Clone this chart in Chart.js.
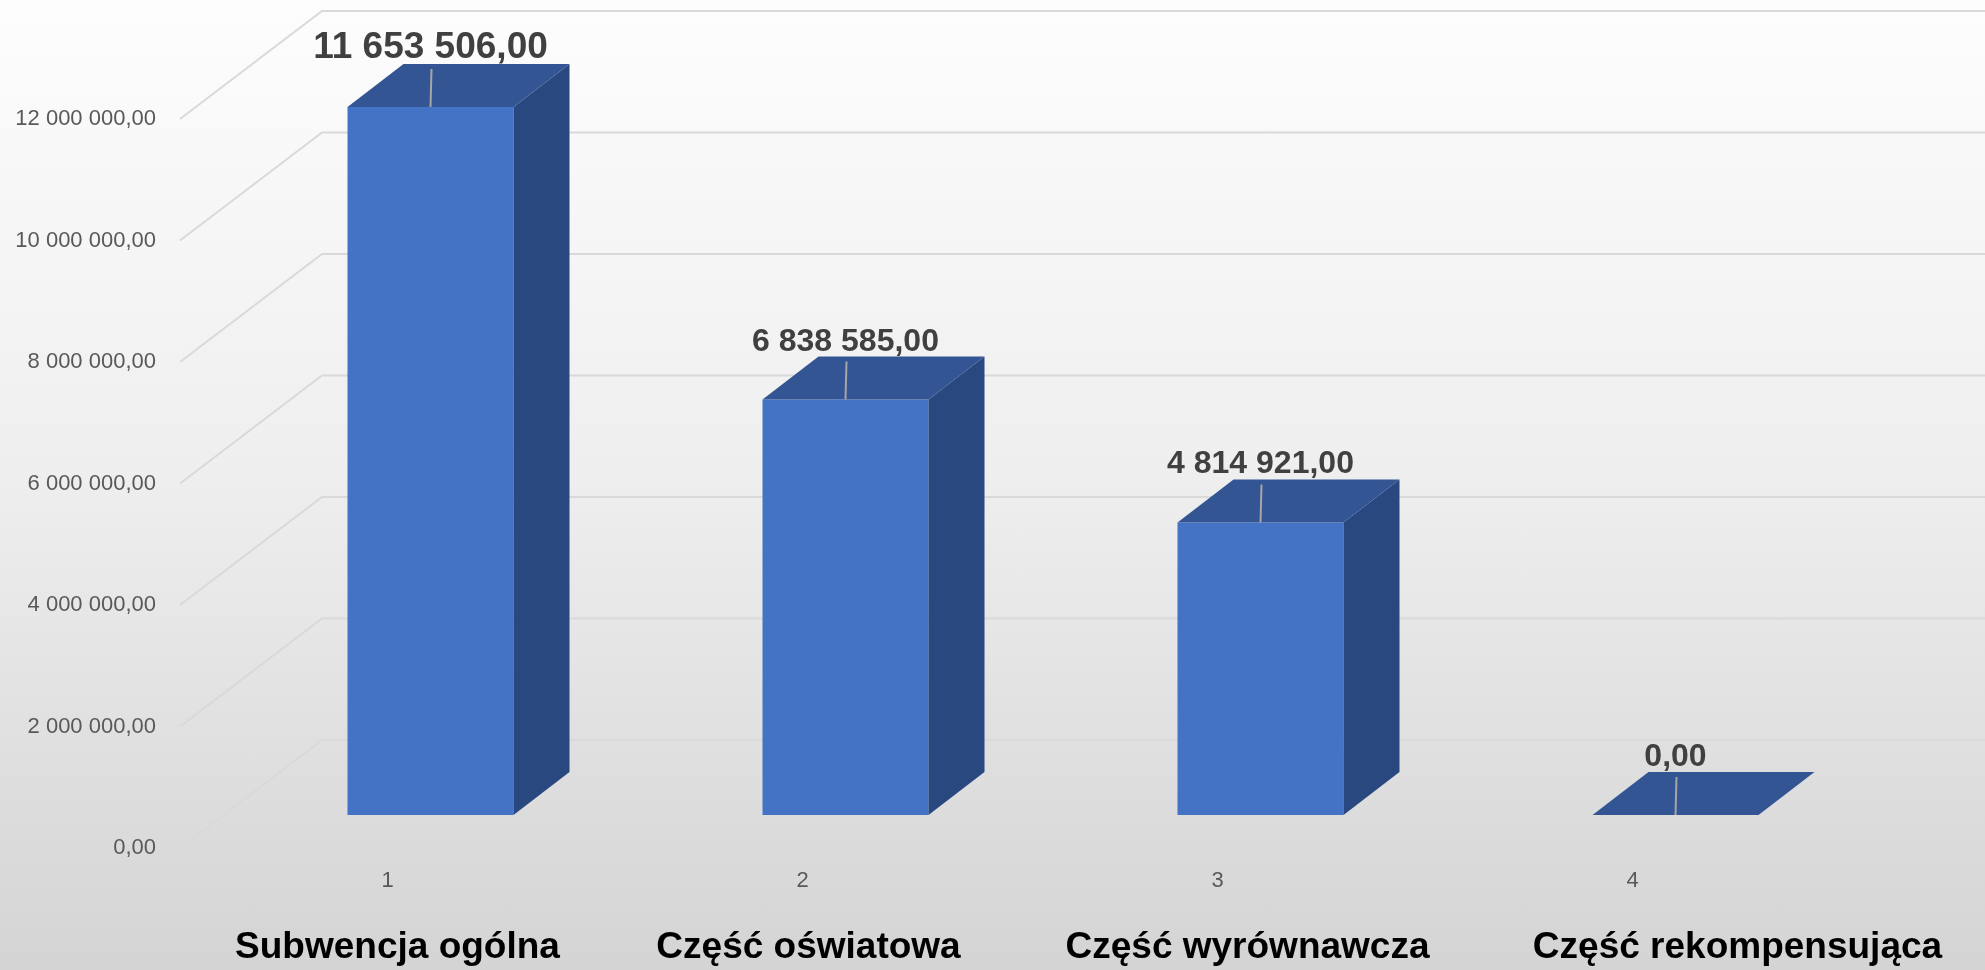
<!DOCTYPE html>
<html lang="pl">
<head>
<meta charset="utf-8">
<title>Subwencja</title>
<script src="https://cdn.jsdelivr.net/npm/chart.js@4.4.1/dist/chart.umd.min.js"></script>
<style>
    html, body { margin: 0; padding: 0; }
    #wrap {
        position: relative;
        width: 1985px;
        height: 970px;
        background: linear-gradient(to bottom, #fdfdfd 0%, #eeeeee 50%, #dfdfdf 78%, #d4d4d4 100%);
    }
</style>
</head>
<body>
<div id="wrap"><canvas id="subwencja-chart"></canvas></div>
<script>
const categories = ['1', '2', '3', '4'];
const names = ['Subwencja ogólna', 'Część oświatowa', 'Część wyrównawcza', 'Część rekompensująca'];
const amounts = [11653506, 6838585, 4814921, 0];
const yTicks = [0, 2000000, 4000000, 6000000, 8000000, 10000000, 12000000];

// styles, not data
const labelSizes = [37, 32, 32, 32];
const nameShift = [10, 6, 30, 105];
const fontFamily = '"Liberation Sans", Arial, sans-serif';

// fake 3d: bars stand a bit behind the axis plane, the wall is further back
const barShift = { x: 43, y: -33 };
const barDepth = { x: 56, y: -43 };
const wallDepth = { x: 142, y: -108 };

function formatPl(value) {
    let parts = Number(value).toFixed(2).split('.')
    let whole = parts[0].replace(/\B(?=(\d{3})+(?!\d))/g, ' ')
    return whole + ',' + parts[1]
}

function fillShape(ctx, points, color) {
    ctx.fillStyle = color
    ctx.beginPath()
    ctx.moveTo(points[0][0], points[0][1])
    points.slice(1).forEach(p => ctx.lineTo(p[0], p[1]))
    ctx.closePath()
    ctx.fill()
}

const boxPlugin = {
    id: 'box3d',
    beforeDatasetsDraw(chart) {
        const ctx = chart.ctx
        const yScale = chart.scales.y
        const area = chart.chartArea

        ctx.save()
        ctx.strokeStyle = '#d9d9d9'
        ctx.lineWidth = 2
        yScale.ticks.forEach(tick => {
            const y = yScale.getPixelForValue(tick.value)
            ctx.beginPath()
            ctx.moveTo(area.left, y)
            ctx.lineTo(area.left + wallDepth.x, y + wallDepth.y)
            ctx.lineTo(chart.width, y + wallDepth.y)
            ctx.stroke()
        })
        ctx.restore()

        // push the bars back, restored after the datasets
        ctx.save()
        ctx.translate(barShift.x, barShift.y)
    },
    afterDatasetsDraw(chart) {
        const ctx = chart.ctx
        const meta = chart.getDatasetMeta(0)

        meta.data.forEach((bar, i) => {
            const { x, y, base, width } = bar.getProps(['x', 'y', 'base', 'width'], true)
            const left = x - width / 2
            const right = x + width / 2
            const dx = barDepth.x
            const dy = barDepth.y

            // right side
            fillShape(ctx, [[right, y], [right + dx, y + dy], [right + dx, base + dy], [right, base]], '#29487f')
            // top
            fillShape(ctx, [[left, y], [right, y], [right + dx, y + dy], [left + dx, y + dy]], '#335594')

            // leader line of the label
            ctx.strokeStyle = '#a6a6a6'
            ctx.lineWidth = 2
            ctx.beginPath()
            ctx.moveTo(x, y)
            ctx.lineTo(x + 1, y + dy + 5)
            ctx.stroke()

            ctx.fillStyle = '#404040'
            ctx.font = 'bold ' + labelSizes[i] + 'px ' + fontFamily
            ctx.textAlign = 'center'
            ctx.textBaseline = 'alphabetic'
            ctx.fillText(formatPl(amounts[i]), x, y + dy - 6)
        })

        ctx.restore()
    },
    afterDraw(chart) {
        const ctx = chart.ctx
        const xScale = chart.scales.x
        ctx.save()
        ctx.fillStyle = '#000000'
        ctx.font = 'bold 37px ' + fontFamily
        ctx.textAlign = 'center'
        ctx.textBaseline = 'alphabetic'
        names.forEach((name, i) => {
            ctx.fillText(name, xScale.getPixelForValue(i) + nameShift[i], 958)
        })
        ctx.restore()
    }
};

function main() {
    const canvas = document.querySelector('#subwencja-chart');

    Chart.defaults.font.family = fontFamily

    new Chart(canvas.getContext('2d'), {
        type: 'bar',
        data: {
            labels: categories,
            datasets: [{
                label: 'Subwencja',
                data: amounts,
                backgroundColor: '#4472c4',
                borderWidth: 0,
                barPercentage: 0.8,
                categoryPercentage: 0.5,
                clip: false
            }]
        },
        options: {
            responsive: true,
            maintainAspectRatio: false,
            animation: false,
            devicePixelRatio: 1,
            layout: { padding: { top: 119, right: 145, left: 0, bottom: 0 } },
            plugins: {
                legend: { display: false },
                tooltip: { enabled: false }
            },
            scales: {
                x: {
                    grid: { display: false, drawTicks: false },
                    border: { display: false },
                    ticks: { color: '#595959', font: { size: 22 }, padding: 20 },
                    afterFit(scale) { scale.height = 122 }
                },
                y: {
                    min: 0,
                    max: 12000000,
                    grid: { display: false, drawTicks: false },
                    border: { display: false },
                    afterBuildTicks(scale) {
                        scale.ticks = yTicks.map(v => ({ value: v }))
                    },
                    ticks: {
                        color: '#595959',
                        font: { size: 22 },
                        padding: 24,
                        callback: value => formatPl(value)
                    },
                    afterFit(scale) { scale.width = 180 }
                }
            }
        },
        plugins: [boxPlugin]
    });
}

main()
</script>
</body>
</html>
